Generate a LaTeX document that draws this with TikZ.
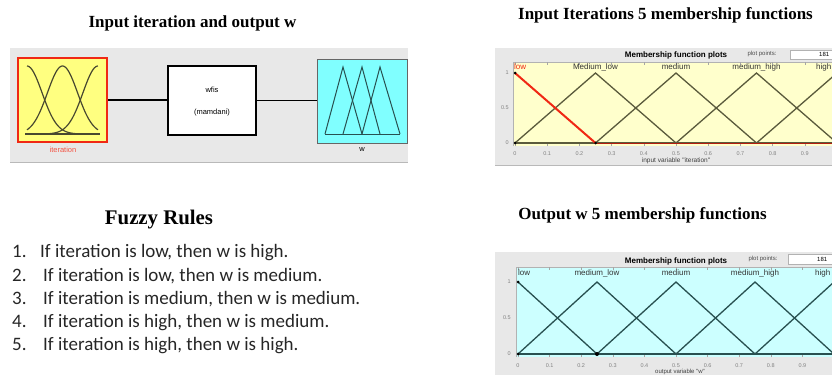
\documentclass[tikz,border=0pt]{standalone}
\usepackage{fontspec}
\setmainfont{Liberation Serif}
\newfontfamily\rulefont{Carlito}
\newfontfamily\uifont{Liberation Sans}
\definecolor{panelgray}{RGB}{232,232,232}
\definecolor{plotyellow}{RGB}{255,255,204}
\definecolor{plotcyan}{RGB}{204,255,255}
\definecolor{boxyellow}{RGB}{255,255,128}
\definecolor{boxcyan}{RGB}{128,255,255}
\definecolor{mfred}{RGB}{240,40,20}
\definecolor{olive}{RGB}{90,90,60}
\definecolor{teal2}{RGB}{40,80,80}
\definecolor{ticktext}{RGB}{130,130,130}
\begin{document}
\begin{tikzpicture}[x=1pt,y=-1pt,
  titletext/.style={font=\fontsize{17}{19}\selectfont\bfseries, inner sep=0pt, anchor=base},
  ruletext/.style={font=\rulefont\fontsize{19}{21}\selectfont, inner sep=0pt, anchor=base west, text=black!85},
  uismall/.style={font=\uifont\fontsize{7.5}{8}\selectfont, inner sep=0pt},
  mflabel/.style={font=\uifont\fontsize{8}{9}\selectfont, inner sep=0pt, text=black!80},
  ticklab/.style={font=\uifont\fontsize{5.5}{6}\selectfont, inner sep=0pt, text=ticktext},
  plottitle/.style={font=\uifont\bfseries\fontsize{8}{9}\selectfont, inner sep=0pt},
  vdot/.style={circle, fill=black, inner sep=0pt, minimum size=3pt},
  link/.style={line width=1.6pt, black}
]
\useasboundingbox (0,0) rectangle (832,375);
\clip (0,0) rectangle (832,375);

% ---------------- titles ----------------
\node[titletext] (t1) at (192.5,27.5) {Input iteration and output w};
\node[titletext] (t2) at (665.5,19.5) {Input Iterations 5 membership functions};
\node[titletext] (t3) at (642.5,219) {Output w 5 membership functions};
\node[titletext, font=\fontsize{20.8}{22}\selectfont\bfseries] (t4) at (159,224) {Fuzzy Rules};

% ---------------- FIS panel ----------------
\fill[panelgray] (10,48) rectangle (408,163);
\draw[gray!55] (10,162.5) -- (408,162.5);

\node[draw=mfred, line width=2pt, fill=boxyellow, minimum width=89pt, minimum height=84pt, inner sep=0pt] (iter) at (62.5,100) {};
\node[draw=black, line width=2.4pt, fill=white, minimum width=88pt, minimum height=69pt, inner sep=0pt] (wfis) at (212,100.5) {};
\node[draw=gray!80!black, line width=0.8pt, fill=boxcyan, minimum width=90pt, minimum height=84pt, inner sep=0pt] (wout) at (362,101) {};

\node[uismall] (wfisname) at (212,90) {wfis};
\node[uismall] (wfistype) at (212,113) {(mamdani)};
\node[uismall, text=mfred!80] (iterlab) at (63,150) {iteration};
\node[uismall] (wlab) at (362,150) {w};

\draw[link] (iter.east) -- (iter.east -| wfis.west);
\draw[link] (wfis.east) -- (wfis.east -| wout.west);

% gaussian icons
\begin{scope}[line width=1.2pt, olive!80!black]
\draw (25,134) -- (100,134);
\draw[domain=0:1, samples=60] plot ({27+71*\x},{134-68*exp(-(\x*\x)/0.0899)});
\draw[domain=0:1, samples=60] plot ({27+71*\x},{134-68*exp(-((\x-0.5)*(\x-0.5))/0.0899)});
\draw[domain=0:1, samples=60] plot ({27+71*\x},{134-68*exp(-((\x-1)*(\x-1))/0.0899)});
\end{scope}
% triangle icons
\begin{scope}[line width=1pt, teal2]
\draw (325,134) -- (400,134);
\draw (325,134) -- (343,67) -- (362,134);
\draw (343,134) -- (362,67) -- (380,134);
\draw (362,134) -- (380,67) -- (400,134);
\end{scope}

% ---------------- rules ----------------
\node[ruletext] (n1) at (12,257) {1.};
\node[ruletext] (r1) at (40,257) {If iteration is low, then w is high.};
\node[ruletext] (n2) at (12,281) {2.};
\node[ruletext] (r2) at (43,281) {If iteration is low, then w is medium.};
\node[ruletext] (n3) at (12,304) {3.};
\node[ruletext] (r3) at (43,304) {If iteration is medium, then w is medium.};
\node[ruletext] (n4) at (12,327) {4.};
\node[ruletext] (r4) at (43,327) {If iteration is high, then w is medium.};
\node[ruletext] (n5) at (12,350) {5.};
\node[ruletext] (r5) at (43,350) {If iteration is high, then w is high.};

% ---------------- input MF plot ----------------
\fill[panelgray] (495,48) rectangle (832,165);
\draw[gray!55] (495,165) -- (832,165);
\node[plottitle] (pt1) at (676,55) {Membership function plots};
\node[ticklab, text=black!70, font=\uifont\fontsize{6}{7}\selectfont] (pp1) at (762,54) {plot points:};
\node[draw=gray!60, fill=white, minimum width=50pt, minimum height=9pt, inner sep=0pt] (pb1) at (815,54.5) {};
\node[ticklab, text=black, anchor=west, font=\uifont\fontsize{6}{7}\selectfont] (pn1) at (819,54.5) {181};

\fill[plotyellow] (513,62) rectangle (840,146);
\draw[gray!60] (513,146) -- (513,62) -- (840,62);
\foreach \v in {0,...,9} {
  \draw[gray!70] ({515+32.2*\v},62) -- ++(0,2.5);
  \draw[gray!70] ({515+32.2*\v},146) -- ++(0,-2.5);
}
\foreach \v/\l in {0/0,1/0.1,2/0.2,3/0.3,4/0.4,5/0.5,6/0.6,7/0.7,8/0.8,9/0.9} {
  \node[ticklab] (ta\v) at ({515+32.2*\v},153.5) {\l};
}
\node[ticklab, anchor=east] (ya1) at (509,73) {1};
\node[ticklab, anchor=east] (ya2) at (509,108) {0.5};
\node[ticklab, anchor=east] (ya3) at (509,143) {0};
\node[ticklab, text=black!75, font=\uifont\fontsize{6.5}{7}\selectfont] (xa) at (676,161) {input variable "iteration"};

\begin{scope}[line width=1.3pt, olive]
\draw (515,143) -- (840,143);
\draw (515,143) -- (595.5,73) -- (676,143);
\draw (595.5,143) -- (676,73) -- (756.5,143);
\draw (676,143) -- (756.5,73) -- (837,143);
\draw (756.5,143) -- (837,73);
\end{scope}
\draw[line width=1.1pt, mfred!75!black] (597,143.3) -- (840,143.3);
\draw[line width=2pt, mfred] (515,73) -- (595.5,143);
\node[vdot] (da1) at (515,73) {};
\node[vdot] (da2) at (515,143) {};
\node[vdot] (da3) at (595.5,143) {};

\node[mflabel, text=mfred, anchor=west] (la1) at (514,67) {low};
\node[mflabel] (la2) at (595.5,67) {Medium\_low};
\node[mflabel] (la3) at (676,67) {medium};
\node[mflabel] (la4) at (756.5,67) {medium\_high};
\node[mflabel, anchor=west] (la5) at (816,67) {high};

% ---------------- output MF plot ----------------
\fill[panelgray] (495,252) rectangle (832,375);
\node[plottitle] (pt2) at (676,261) {Membership function plots};
\node[ticklab, text=black!70, font=\uifont\fontsize{6}{7}\selectfont] (pp2) at (763,259) {plot points:};
\node[draw=gray!60, fill=white, minimum width=50pt, minimum height=10pt, inner sep=0pt] (pb2) at (813,259) {};
\node[ticklab, text=black, anchor=west, font=\uifont\fontsize{6}{7}\selectfont] (pn2) at (817,259) {181};

\fill[plotcyan] (516,267) rectangle (840,357);
\draw[gray!60] (516,357) -- (516,267) -- (840,267);
\foreach \v in {0,...,9} {
  \draw[gray!70] ({518+31.6*\v},267) -- ++(0,2.5);
  \draw[gray!70] ({518+31.6*\v},357) -- ++(0,-2.5);
}
\foreach \v/\l in {0/0,1/0.1,2/0.2,3/0.3,4/0.4,5/0.5,6/0.6,7/0.7,8/0.8,9/0.9} {
  \node[ticklab] (tb\v) at ({518+31.6*\v},365.5) {\l};
}
\node[ticklab, anchor=east] (yb1) at (511,282) {1};
\node[ticklab, anchor=east] (yb2) at (511,318) {0.5};
\node[ticklab, anchor=east] (yb3) at (511,354) {0};
\node[ticklab, text=black!75, font=\uifont\fontsize{6}{7}\selectfont] (xb) at (680,371.5) {output variable "w"};

\begin{scope}[line width=1.3pt, teal2]
\draw (518,354) -- (840,354);
\draw (518,282) -- (597,354);
\draw (518,354) -- (597,282) -- (676,354);
\draw (597,354) -- (676,282) -- (755,354);
\draw (676,354) -- (755,282) -- (834,354);
\draw (755,354) -- (834,282);
\end{scope}
\node[vdot] (db1) at (518,282) {};
\node[vdot] (db2) at (518,354) {};
\node[vdot, minimum size=4pt] (db3) at (597,354) {};

\node[mflabel, anchor=west] (lb1) at (518,273) {low};
\node[mflabel] (lb2) at (597,273) {medium\_low};
\node[mflabel] (lb3) at (676,273) {medium};
\node[mflabel] (lb4) at (755,273) {medium\_high};
\node[mflabel, anchor=west] (lb5) at (815,273) {high};
\end{tikzpicture}
\end{document}
